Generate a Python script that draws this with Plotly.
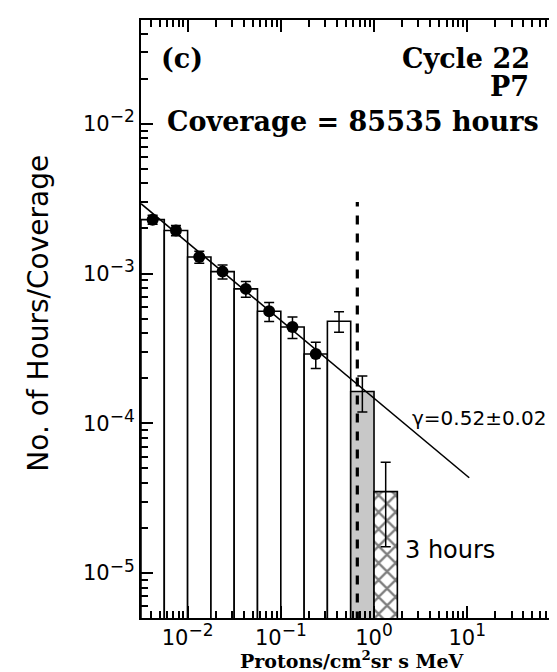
import numpy as np
import plotly.graph_objects as go

# ---------------- data ----------------
coverage_hours = 85535
bin_edges = [0.00316, 0.00562, 0.0100, 0.0178, 0.0316, 0.0562, 0.100,
             0.178, 0.316, 0.562, 1.00, 1.78]
values = [2.29e-3, 1.94e-3, 1.29e-3, 1.03e-3, 7.9e-4, 5.6e-4, 4.4e-4,
          2.9e-4, 4.8e-4, 1.63e-4, 3.5e-5]
errors = [1.6e-4, 1.5e-4, 1.2e-4, 1.1e-4, 9.6e-5, 8.1e-5, 7.2e-5,
          5.8e-5, 7.5e-5, 4.4e-5, 2.0e-5]
bar_style = ["white"] * 9 + ["gray", "hatch"]
fit_points = [True] * 8 + [False] * 3
fit_x = [0.00316, 10.5]
fit_y = [2.93e-3, 4.33e-5]
threshold_x = 0.662
threshold_top = 3.0e-3
y_floor = 1e-7

x_tickvals = [1e-2, 1e-1, 1e0, 1e1]
x_exps = ["−2", "−1", "0", "1"]
y_tickvals = [1e-5, 1e-4, 1e-3, 1e-2]
y_exps = ["−5", "−4", "−3", "−2"]

def pow_label(e):
    return "10<sup><span style='font-size:17px'>" + e + "</span></sup>"

# ---------------- figure ----------------
fig = go.Figure()

for i, v in enumerate(values):
    lo, hi = bin_edges[i], bin_edges[i + 1]
    style = bar_style[i]
    kw = dict(fillcolor="white")
    if style == "gray":
        kw = dict(fillcolor="#c8c8c8")
    elif style == "hatch":
        kw = dict(fillcolor="white",
                  fillpattern=dict(shape="x", fgcolor="black", bgcolor="white",
                                   size=12, solidity=0.35))
    fig.add_trace(go.Scatter(
        x=[lo, lo, hi, hi, lo], y=[y_floor, v, v, y_floor, y_floor],
        mode="lines", fill="toself", line=dict(color="black", width=1.6),
        hoverinfo="skip", showlegend=False, **kw))

centers = [float(np.sqrt(bin_edges[i] * bin_edges[i + 1])) for i in range(len(values))]

# threshold dashed line
fig.add_trace(go.Scatter(
    x=[threshold_x, threshold_x], y=[y_floor, threshold_top], mode="lines",
    line=dict(color="black", width=3.2, dash="9px,9px"), showlegend=False))

# fit line
fig.add_trace(go.Scatter(x=fit_x, y=fit_y, mode="lines",
                         line=dict(color="black", width=1.6), showlegend=False))

# error bars without markers
fig.add_trace(go.Scatter(
    x=[c for c, f in zip(centers, fit_points) if not f],
    y=[v for v, f in zip(values, fit_points) if not f],
    mode="markers", marker=dict(size=1, color="rgba(0,0,0,0)"),
    error_y=dict(type="data", array=[e for e, f in zip(errors, fit_points) if not f],
                 color="black", thickness=1.5, width=5),
    showlegend=False))

# points used in fit
fig.add_trace(go.Scatter(
    x=[c for c, f in zip(centers, fit_points) if f],
    y=[v for v, f in zip(values, fit_points) if f],
    mode="markers", marker=dict(size=12, color="black", symbol="circle"),
    error_y=dict(type="data", array=[e for e, f in zip(errors, fit_points) if f],
                 color="black", thickness=1.5, width=5),
    showlegend=False))

def minor_vals(lo_exp, hi_exp):
    out = []
    for e in range(lo_exp, hi_exp + 1):
        for m in range(2, 10):
            out.append(m * 10.0 ** e)
    return out

x_range = [-2.5, 2.006]
y_range = [-5.3, -1.307]

fig.update_xaxes(type="log", range=x_range, showline=True, linecolor="black", linewidth=2,
                 mirror="allticks", ticks="inside", ticklen=12, tickwidth=2,
                 tickcolor="black", showgrid=False, zeroline=False, tickmode="array",
                 tickvals=x_tickvals, ticktext=[pow_label(e) for e in x_exps],
                 tickfont=dict(family="DejaVu Sans", size=21, color="black"),
                 minor=dict(ticks="inside", ticklen=7, tickwidth=1.6, tickcolor="black",
                            tickmode="array", tickvals=minor_vals(-3, 1)))
fig.update_yaxes(type="log", range=y_range, showline=True, linecolor="black", linewidth=2,
                 mirror="allticks", ticks="inside", ticklen=12, tickwidth=2,
                 tickcolor="black", gridcolor="rgba(0,0,0,0)", tickmode="array",
                 tickvals=y_tickvals, ticktext=[pow_label(e) for e in y_exps],
                 tickfont=dict(family="DejaVu Sans", size=21, color="black"),
                 minor=dict(ticks="inside", ticklen=7, tickwidth=1.6, tickcolor="black",
                            tickmode="array", tickvals=minor_vals(-6, -2),
                            gridcolor="rgba(0,0,0,0)"))

serif = dict(family="DejaVu Serif", size=27, color="black")
ann = [
    dict(text="<b>(c)</b>", x=0.043, y=0.936, xanchor="left", yanchor="middle", font=serif),
    dict(text="<b>Cycle 22</b>", x=0.932, y=0.936, xanchor="right", yanchor="middle", font=serif),
    dict(text="<b>P7</b>", x=0.928, y=0.888, xanchor="right", yanchor="middle", font=serif),
    dict(text="<b>Coverage = 85535 hours</b>", x=0.953, y=0.830, xanchor="right",
         yanchor="middle", font=serif),
    dict(text="γ=0.52±0.02", x=0.970, y=0.334, xanchor="right", yanchor="middle",
         font=dict(family="DejaVu Sans", size=20, color="black")),
    dict(text="3 hours", x=0.6246, y=0.1137, xanchor="left", yanchor="middle",
         font=dict(family="DejaVu Sans", size=24, color="black")),
    dict(text="No. of Hours/Coverage", x=-0.246, y=0.51, xanchor="center", yanchor="middle",
         textangle=-90, font=dict(family="DejaVu Sans", size=28, color="black")),
    dict(text="<b>Protons/cm<sup>2</sup>sr s MeV</b>", x=0.504, y=-0.070, xanchor="center",
         yanchor="middle", font=dict(family="DejaVu Serif", size=19, color="black")),
]
for a in ann:
    a.update(xref="paper", yref="paper", showarrow=False)
fig.update_layout(annotations=ann)

fig.update_layout(width=557, height=672, margin=dict(l=133, r=2, t=12, b=62),
                  plot_bgcolor="white", paper_bgcolor="white")

fig.write_html("out.html")
